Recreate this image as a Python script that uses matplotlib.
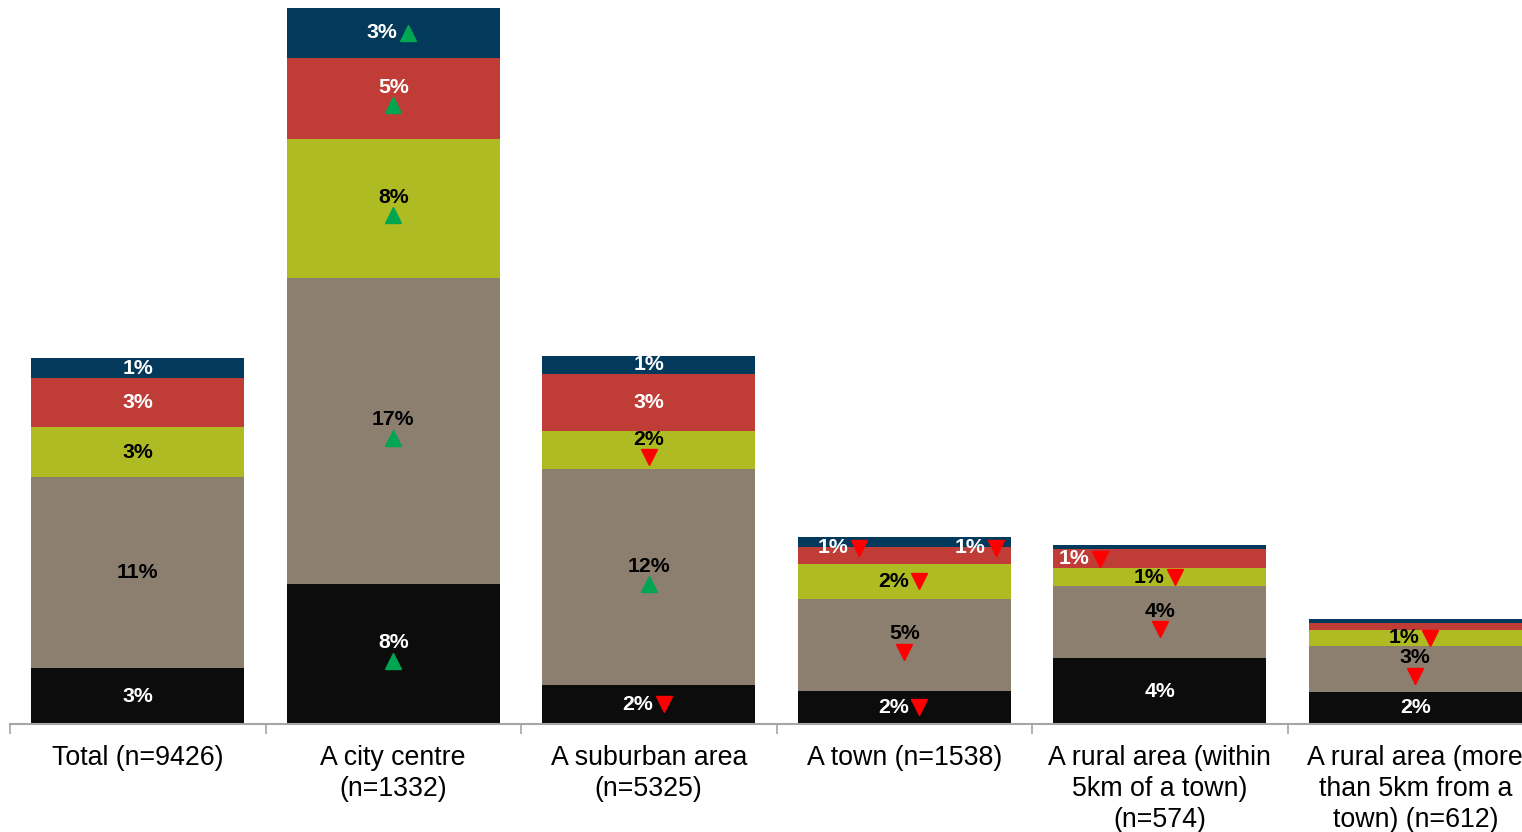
import matplotlib
matplotlib.use("Agg")
import matplotlib.pyplot as plt
import matplotlib.transforms as mtransforms
import numpy as np

plt.rcParams["font.family"] = ["Liberation Sans", "DejaVu Sans"]

categories = ["Total (n=9426)", "A city centre\n(n=1332)", "A suburban area\n(n=5325)",
              "A town (n=1538)", "A rural area (within\n5km of a town)\n(n=574)",
              "A rural area (more\nthan 5km from a\ntown) (n=612)"]

# stacked bottom -> top
black = [3.2, 8.0, 2.23, 1.89, 3.77, 1.83]
taupe = [10.9, 17.5, 12.34, 5.26, 4.11, 2.63]
green = [2.86, 7.94, 2.17, 2.0, 1.03, 0.91]
red = [2.8, 4.63, 3.26, 0.97, 1.09, 0.4]
navy = [1.14, 2.86, 1.03, 0.57, 0.23, 0.23]

lab_black = ["3%", "8%", "2%", "2%", "4%", "2%"]
lab_taupe = ["11%", "17%", "12%", "5%", "4%", "3%"]
lab_green = ["3%", "8%", "2%", "2%", "1%", "1%"]
lab_red = ["3%", "5%", "3%", "1%", "1%", None]
lab_navy = ["1%", "3%", "1%", "1%", None, None]

# significance vs total: 1 = higher, -1 = lower
sig_black = [0, 1, -1, -1, 0, 0]
sig_taupe = [0, 1, 1, -1, -1, -1]
sig_green = [0, 1, -1, -1, -1, -1]
sig_red = [0, 1, 0, -1, -1, 0]
sig_navy = [0, 1, 0, -1, 0, 0]

series = [
    (black, lab_black, sig_black, "#0c0c0c", "white", ["c", "b", "r", "r", "c", "c"]),
    (taupe, lab_taupe, sig_taupe, "#8c7f70", "black", ["c", "b", "b", "b", "b", "b"]),
    (green, lab_green, sig_green, "#afbb22", "black", ["c", "b", "b", "r", "r", "r"]),
    (red, lab_red, sig_red, "#bf3c37", "white", ["c", "b", "c", "r", "r", "c"]),
    (navy, lab_navy, sig_navy, "#033a5c", "white", ["c", "r", "c", "r", "c", "c"]),
]
# manual nudges (pixels) for the thin segments, keyed (category, series)
nudge = {(3, 3): (-60, 7.5), (3, 4): (77, -6), (4, 3): (-75, 0)}

W, H = 1522, 832
fig = plt.figure(figsize=(W / 100, H / 100), dpi=100)
px_per_pct = 17.5
ax = fig.add_axes([10 / W, 108 / H, 6 * 255.5 / W, 724 / H])
ax.set_xlim(-0.5, 5.5)
ax.set_ylim(0, 724 / px_per_pct)

x = np.arange(len(categories))
bottom = np.zeros(len(categories))

def off(dx, dy):
    return mtransforms.offset_copy(ax.transData, fig=fig, x=dx, y=dy, units="dots")

for si, (vals, labs, sigs, col, tcol, modes) in enumerate(series):
    vals = np.array(vals)
    ax.bar(x, vals, 0.834, bottom=bottom, color=col, linewidth=0, zorder=2)
    for i in range(len(x)):
        if labs[i] is None:
            continue
        cy = bottom[i] + vals[i] / 2
        mode = modes[i]
        dx, dy = nudge.get((i, si), (0, 0))
        if sigs[i] == 0:
            mode = "c"
        if mode == "c":
            tx, ty = dx, dy
        elif mode == "b":
            tx, ty = dx, dy + 11
            mx, my = dx, dy - 7
        else:
            tx, ty = dx - 11, dy
            mx, my = dx + 15, dy
        ax.text(x[i], cy, labs[i], transform=off(tx, ty), ha="center", va="center",
                fontsize=15.3, fontweight="bold", color=tcol, zorder=4)
        if sigs[i] != 0:
            ax.plot([x[i]], [cy], marker="^" if sigs[i] > 0 else "v", markersize=11,
                    color="#00a651" if sigs[i] > 0 else "#ff0000", linestyle="none",
                    transform=off(mx, my), zorder=5, clip_on=False)
    bottom = bottom + vals

for s in ["top", "right", "left"]:
    ax.spines[s].set_visible(False)
ax.spines["bottom"].set_color("#a6a6a6")
ax.spines["bottom"].set_linewidth(1.5)
ax.set_yticks([])
ax.set_xticks(x)
ax.set_xticklabels(categories, fontsize=19.3, linespacing=1.25)
ax.tick_params(axis="x", which="major", length=0, pad=15)
ax.set_xticks(np.arange(-0.5, 6, 1), minor=True)
ax.tick_params(axis="x", which="minor", length=7, width=1.2, color="#a6a6a6")

fig.savefig("out.png", dpi=100)
